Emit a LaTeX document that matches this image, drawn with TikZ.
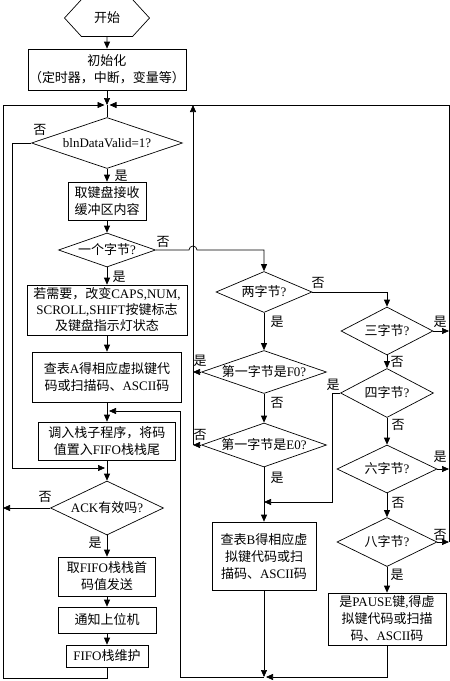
\documentclass[tikz,border=0pt]{standalone}
\usepackage{fontspec}
\setmainfont{Liberation Serif}
\newfontfamily\cjk{Noto Sans CJK SC}
\usetikzlibrary{shapes.geometric,shapes.symbols,arrows.meta}
\XeTeXinterchartokenstate=1
\newXeTeXintercharclass\CJKcls
\newcount\cjkc
\def\setcjkrange#1#2{\cjkc=#1\relax\loop\XeTeXcharclass\cjkc=\CJKcls\relax\ifnum\cjkc<#2\relax\advance\cjkc by 1\repeat}
\setcjkrange{"3000}{"303F}
\setcjkrange{"4E00}{"9FFF}
\setcjkrange{"FF00}{"FFEF}
\XeTeXinterchartoks 0 \CJKcls = {\cjk}
\XeTeXinterchartoks 4095 \CJKcls = {\cjk}
\XeTeXinterchartoks \CJKcls 0 = {\rmfamily}
\XeTeXinterchartoks 4095 0 = {\rmfamily}
\newcommand\dtext[1]{\makebox[0pt]{#1}}
\begin{document}
\begin{tikzpicture}[x=1pt,y=-1pt,
  line width=0.7pt,
  every node/.style={font=\fontsize{13}{17}\selectfont},
  box/.style={draw, inner sep=0pt, align=center},
  dia/.style={diamond, draw, inner sep=0pt},
  hexa/.style={signal, signal to=east and west, signal pointer angle=95, draw, inner sep=0pt, minimum width=85, minimum height=37},
  lab/.style={inner sep=0pt},
  arr/.style={-{Triangle[length=7pt,width=6pt]}}]
\useasboundingbox (0,0) rectangle (450,681);

% left column
\node[hexa] (start) at (107,18) {开始};
\node[box, minimum width=158, minimum height=41] (init) at (107,69.5) {初始化\\（定时器，中断，变量等）};
\node[dia, minimum width=151, minimum height=51] (d1) at (107,143) {\dtext{blnDataValid=1?}};
\node[box, minimum width=78, minimum height=38] (getbuf) at (107,201) {取键盘接收\\缓冲区内容};
\node[dia, minimum width=97, minimum height=34] (d2) at (107,250) {\dtext{一个字节?}};
\node[box, minimum width=160, minimum height=50, font=\fontsize{13}{16}\selectfont] (mod) at (107,310) {若需要，改变CAPS,NUM,\\SCROLL,SHIFT按键标志\\及键盘指示灯状态};
\node[box, minimum width=149, minimum height=50] (tabA) at (107,377) {查表A得相应虚拟键代\\码或扫描码、ASCII码};
\node[box, minimum width=137, minimum height=38] (push) at (107,441) {调入栈子程序，将码\\值置入FIFO栈栈尾};
\node[dia, minimum width=113, minimum height=54] (ack) at (107,508) {\dtext{ACK有效吗?}};
\node[box, minimum width=97, minimum height=39] (send) at (107,576.5) {取FIFO栈栈首\\码值发送};
\node[box, minimum width=98, minimum height=26] (notify) at (107,620) {通知上位机};
\node[box, minimum width=82, minimum height=22] (maint) at (107,656) {FIFO栈维护};

% middle column
\node[dia, minimum width=96, minimum height=41] (d3) at (264,292) {\dtext{两字节?}};
\node[dia, minimum width=125, minimum height=43] (dF0) at (264,372) {\dtext{第一字节是F0?}};
\node[dia, minimum width=125, minimum height=44] (dE0) at (264,445) {\dtext{第一字节是E0?}};
\node[box, minimum width=104, minimum height=68] (tabB) at (264,556) {查表B得相应虚\\拟键代码或扫\\描码、ASCII码};

% right column
\node[dia, minimum width=92, minimum height=48] (d4) at (387,331) {\dtext{三字节?}};
\node[dia, minimum width=93, minimum height=49] (d5) at (387,393) {\dtext{四字节?}};
\node[dia, minimum width=100, minimum height=48] (d6) at (387,469) {\dtext{六字节?}};
\node[dia, minimum width=100, minimum height=49] (d7) at (387,542) {\dtext{八字节?}};
\node[box, minimum width=118, minimum height=52] (pause) at (387,619) {是PAUSE键,得虚\\拟键代码或扫描\\码、ASCII码};

% helper coordinates
\coordinate (top) at (107,105);
\coordinate (Lbot) at (3,678);
\coordinate (Rx) at (449,105);
\coordinate (Mtop) at (193,105);
\coordinate (Mbot) at (193,445);
\coordinate (J1) at (264,502);
\coordinate (Bj) at (264,677);
\coordinate (Fx) at (180,677);
\coordinate (Fr) at (107,411);
\coordinate (J2) at (107,468);

% connectors, left column
\draw[arr] (start) -- (init);
\draw[arr] (init) -- (top);
\draw (top) -- (d1.north);
\draw[arr] (d1) -- (getbuf);
\draw[arr] (getbuf) -- (d2);
\draw[arr] (d2) -- (mod);
\draw[arr] (mod) -- (tabA);
\draw[arr] (tabA) -- (push);
\draw[arr] (push) -- (ack);
\draw[arr] (ack) -- (send);
\draw[arr] (send) -- (notify);
\draw[arr] (notify) -- (maint);
\draw[arr, shorten >=2.5pt] (maint.south) |- (Lbot) |- (top);
\draw[arr] (ack.west) -- (ack.west -| Lbot);
\draw[arr, shorten >=2pt] (d1.west) -- ++(-19,0) |- (J2);

% middle column
\draw[arr] (d2.east) -- ([xshift=-4pt]d2.east -| Mtop) arc[start angle=180, end angle=0, radius=4pt] -- (d2.east -| d3.north) -- (d3.north);
\draw[arr] (d3) -- (dF0);
\draw[arr] (dF0) -- (dE0);
\draw[arr] (dE0) -- (tabB);
\draw[arr] (dF0.west) -- (dF0.west -| Mbot);
\draw[arr] (dE0.west) -- (Mbot);
\draw[arr] (Mbot) -- (Mtop);
\draw[arr] (tabB) -- (Bj);
\draw[arr, shorten >=2pt] (pause.south) |- (Bj);
\draw[arr, shorten >=2pt] (Bj) -- (Fx) |- (Fr);

% right column
\draw[arr] (d3.east) -| (d4.north);
\draw[arr] (d4) -- (d5);
\draw[arr] (d5) -- (d6);
\draw[arr] (d6) -- (d7);
\draw[arr] (d7) -- (pause);
\draw[arr] (d5.west) -- ++(-8,0) |- (J1);
\draw[arr] (d4.east) -- (d4.east -| Rx);
\draw[arr] (d6.east) -- (d6.east -| Rx);
\draw[arr] (d7.east) -- (d7.east -| Rx);
\draw[arr, shorten >=2.5pt] (d7.east -| Rx) -- (Rx) -- (top);

% labels
\node[lab] (l1) at (40,130) {否};
\node[lab] (l2) at (121,176) {是};
\node[lab] (l3) at (163,242) {否};
\node[lab] (l4) at (119,277) {是};
\node[lab] (l5) at (45,497) {否};
\node[lab] (l6) at (95,543) {是};
\node[lab] (l7) at (318,283) {否};
\node[lab] (l8) at (277,322) {是};
\node[lab] (l9) at (200,361) {是};
\node[lab] (l10) at (277,403) {否};
\node[lab] (l11) at (200,435) {否};
\node[lab] (l12) at (277,478) {是};
\node[lab] (l13) at (440,322) {是};
\node[lab] (l14) at (397,362) {否};
\node[lab] (l15) at (333,385) {是};
\node[lab] (l16) at (398,425) {否};
\node[lab] (l17) at (440,457) {是};
\node[lab] (l18) at (398,503) {否};
\node[lab] (l19) at (440,535) {否};
\node[lab] (l20) at (397,575) {是};
\end{tikzpicture}
\end{document}
